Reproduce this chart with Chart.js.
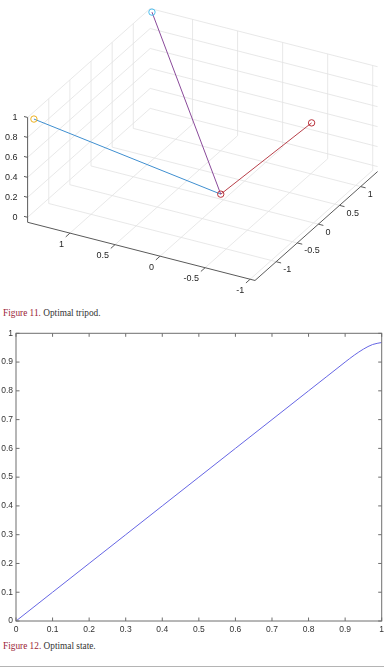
<!DOCTYPE html>
<html>
<head>
<meta charset="utf-8">
<script src="https://cdn.jsdelivr.net/npm/chart.js@4"></script>
<style>
  body { margin: 0; width: 384px; height: 669px; background: #fff; position: relative; overflow: hidden; }
  canvas { position: absolute; left: 0; }
  #tripodChart { top: 0; }
  #stateChart { top: 320px; }
  .caption { position: absolute; left: 3px; font-family: "Liberation Serif", "Times New Roman", serif; font-size: 9.3px; line-height: 12px; color: #333; white-space: nowrap; }
  .caption span { color: #9b2335; }
  #rule { position: absolute; left: 0; top: 666px; width: 384px; border-top: 1.5px solid #b4b4b4; }
</style>
</head>
<body>
<canvas id="tripodChart" width="384" height="300"></canvas>
<div class="caption" style="top:307px"><span>Figure 11.</span> Optimal tripod.</div>
<canvas id="stateChart" width="384" height="320"></canvas>
<div class="caption" style="top:640px"><span>Figure 12.</span> Optimal state.</div>
<div id="rule"></div>
<script>
// --- Figure 11: tripod, points given as [a, b, z] (a = front-left axis, b = front-right axis)
const hub = [0.03, 0, 0];
const legEnds = [[1.4, -1.5, 1], [1.42, 1.335, 1], [-1.03, -0.11, 1]];
const legColors = ['#3f8fd0', '#8a4a9a', '#b8404a'];
const endColors = ['#EDB120', '#4DBEEE', '#b8303a'];
const hubColor = '#b8303a';
const aTicks = [-1, -0.5, 0, 0.5, 1];
const aTickLabels = ['-1', '-0.5', '0', '0.5', '1'];
const bTicks = [-1, -0.5, 0, 0.5, 1];
const bTickLabels = ['-1', '-0.5', '0', '0.5', '1'];
const zTicks = [0, 0.2, 0.4, 0.6, 0.8, 1];
const zTickLabels = ['0', '0.2', '0.4', '0.6', '0.8', '1'];
const aLim = [-1.054, 1.47];
const bLim = [-1.5, 1.4];
const zLim = [-0.05, 1.0];

// --- Figure 12: optimal state
const stateX = [0, 0.1, 0.2, 0.3, 0.4, 0.5, 0.6, 0.7, 0.8, 0.85, 0.9, 0.925, 0.95, 0.975, 1];
const stateY = [0, 0.1, 0.2, 0.3, 0.4, 0.5, 0.6, 0.7, 0.8, 0.85, 0.9, 0.924, 0.945, 0.961, 0.968];
const xTicks = [0, 0.1, 0.2, 0.3, 0.4, 0.5, 0.6, 0.7, 0.8, 0.9, 1];
const xTickLabels = ['0', '0.1', '0.2', '0.3', '0.4', '0.5', '0.6', '0.7', '0.8', '0.9', '1'];
const yTicks = [0, 0.1, 0.2, 0.3, 0.4, 0.5, 0.6, 0.7, 0.8, 0.9, 1];
const yTickLabels = ['0', '0.1', '0.2', '0.3', '0.4', '0.5', '0.6', '0.7', '0.8', '0.9', '1'];

const sans = '"Liberation Sans", Arial, sans-serif';

// orthographic view of the 3d box
const view = { ox: 224.3, oy: 196.4, ax: -92.5, ay: -23.85, bx: 43.4, by: -38.85, zy: -103.3 };
const proj = p => ({
    x: view.ox + p[0] * view.ax + p[1] * view.bx,
    y: view.oy + p[0] * view.ay + p[1] * view.by + p[2] * view.zy
});

const seg = (p, q, color, width, order) => ({
    data: [proj(p), proj(q)],
    showLine: true,
    borderColor: color,
    borderWidth: width,
    pointRadius: 0,
    order: order
});

const datasets = [];

// grid on floor and the two back walls
const [a0, a1] = aLim, [b0, b1] = bLim, [z0, z1] = zLim;
aTicks.forEach(a => {
    datasets.push(seg([a, b0, z0], [a, b1, z0], '#e2e2e2', 0.8, 4));
    datasets.push(seg([a, b1, z0], [a, b1, z1], '#e2e2e2', 0.8, 4));
});
bTicks.forEach(b => {
    datasets.push(seg([a0, b, z0], [a1, b, z0], '#e2e2e2', 0.8, 4));
    datasets.push(seg([a1, b, z0], [a1, b, z1], '#e2e2e2', 0.8, 4));
});
zTicks.forEach(z => {
    datasets.push(seg([a1, b0, z], [a1, b1, z], '#e2e2e2', 0.8, 4));
    datasets.push(seg([a0, b1, z], [a1, b1, z], '#e2e2e2', 0.8, 4));
});

// axis lines and tick marks
const axisColor = '#5a5a5a';
datasets.push(seg([a0, b0, z0], [a1, b0, z0], axisColor, 1, 3));
datasets.push(seg([a0, b0, z0], [a0, b1, z0], axisColor, 1, 3));
datasets.push(seg([a1, b0, z0], [a1, b0, z1], axisColor, 1, 3));
aTicks.forEach(a => datasets.push(seg([a, b0, z0], [a, b0 - 0.1, z0], axisColor, 1, 3)));
bTicks.forEach(b => datasets.push(seg([a0, b, z0], [a0 - 0.055, b, z0], axisColor, 1, 3)));
zTicks.forEach(z => datasets.push(seg([a1, b0, z], [a1 + 0.04, b0, z], axisColor, 1, 3)));

// legs
legEnds.forEach((p, i) => datasets.push(seg(hub, p, legColors[i], 1, 2)));

// markers
legEnds.forEach((p, i) => datasets.push({
    data: [proj(p)],
    pointRadius: 3.2,
    pointBorderWidth: 1,
    pointBackgroundColor: 'rgba(0,0,0,0)',
    pointBorderColor: endColors[i],
    order: 1
}));
datasets.push({
    data: [proj(hub)],
    pointRadius: 3.2,
    pointBorderWidth: 1,
    pointBackgroundColor: 'rgba(0,0,0,0)',
    pointBorderColor: hubColor,
    order: 0
});

const boxLabels = {
    id: 'boxLabels',
    afterDatasetsDraw(chart) {
        const { ctx, scales: { x, y } } = chart;
        const at = p => {
            const q = proj(p);
            return [x.getPixelForValue(q.x), y.getPixelForValue(q.y)];
        };
        ctx.save();
        ctx.fillStyle = '#262626';
        ctx.font = '9px ' + sans;
        ctx.textBaseline = 'middle';
        ctx.textAlign = 'right';
        aTicks.forEach((a, i) => {
            const [u, v] = at([a, b0, z0]);
            ctx.fillText(aTickLabels[i], u - 6, v + 11);
        });
        zTicks.forEach((z, i) => {
            const [u, v] = at([a1, b0, z]);
            ctx.fillText(zTickLabels[i], u - 10, v);
        });
        ctx.textAlign = 'left';
        bTicks.forEach((b, i) => {
            const [u, v] = at([a0, b, z0]);
            ctx.fillText(bTickLabels[i], u + 7, v + 8);
        });
        ctx.restore();
    }
};

new Chart(document.getElementById('tripodChart'), {
    type: 'scatter',
    data: { datasets: datasets },
    options: {
        responsive: false,
        animation: false,
        layout: { padding: 0 },
        plugins: { legend: { display: false }, tooltip: { enabled: false } },
        scales: {
            x: { type: 'linear', min: 0, max: 384, display: false },
            y: { type: 'linear', min: 0, max: 300, reverse: true, display: false }
        }
    },
    plugins: [boxLabels]
});

// box with inward ticks and tick labels, matlab style
const frameTicks = {
    id: 'frameTicks',
    afterDatasetsDraw(chart) {
        const { ctx, chartArea: { left, right, top, bottom }, scales: { x, y } } = chart;
        ctx.save();
        ctx.strokeStyle = '#6e6e6e';
        ctx.lineWidth = 1;
        ctx.strokeRect(left, top, right - left, bottom - top);
        ctx.beginPath();
        xTicks.forEach(v => {
            const px = x.getPixelForValue(v);
            ctx.moveTo(px, bottom); ctx.lineTo(px, bottom - 3.5);
            ctx.moveTo(px, top); ctx.lineTo(px, top + 3.5);
        });
        yTicks.forEach(v => {
            const py = y.getPixelForValue(v);
            ctx.moveTo(left, py); ctx.lineTo(left + 3.5, py);
            ctx.moveTo(right, py); ctx.lineTo(right - 3.5, py);
        });
        ctx.stroke();

        ctx.fillStyle = '#333';
        ctx.font = '8.5px ' + sans;
        ctx.textAlign = 'center';
        ctx.textBaseline = 'middle';
        xTicks.forEach((v, i) => ctx.fillText(xTickLabels[i], x.getPixelForValue(v), bottom + 9));
        ctx.textAlign = 'right';
        yTicks.forEach((v, i) => ctx.fillText(yTickLabels[i], left - 3, y.getPixelForValue(v)));
        ctx.restore();
    }
};

new Chart(document.getElementById('stateChart'), {
    type: 'scatter',
    data: {
        datasets: [{
            data: stateX.map((v, i) => ({ x: v, y: stateY[i] })),
            showLine: true,
            borderColor: '#6666e4',
            borderWidth: 1,
            pointRadius: 0,
            cubicInterpolationMode: 'monotone'
        }]
    },
    options: {
        responsive: false,
        animation: false,
        layout: { padding: { top: 13.3, right: 2.3, left: 0, bottom: 0 } },
        plugins: { legend: { display: false }, tooltip: { enabled: false } },
        scales: {
            x: {
                type: 'linear',
                min: 0,
                max: 1,
                afterFit: s => { s.height = 19; },
                ticks: { display: false },
                grid: { display: false },
                border: { display: false }
            },
            y: {
                type: 'linear',
                min: 0,
                max: 1,
                afterFit: s => { s.width = 16; },
                ticks: { display: false },
                grid: { display: false },
                border: { display: false }
            }
        }
    },
    plugins: [frameTicks]
});
</script>
</body>
</html>
